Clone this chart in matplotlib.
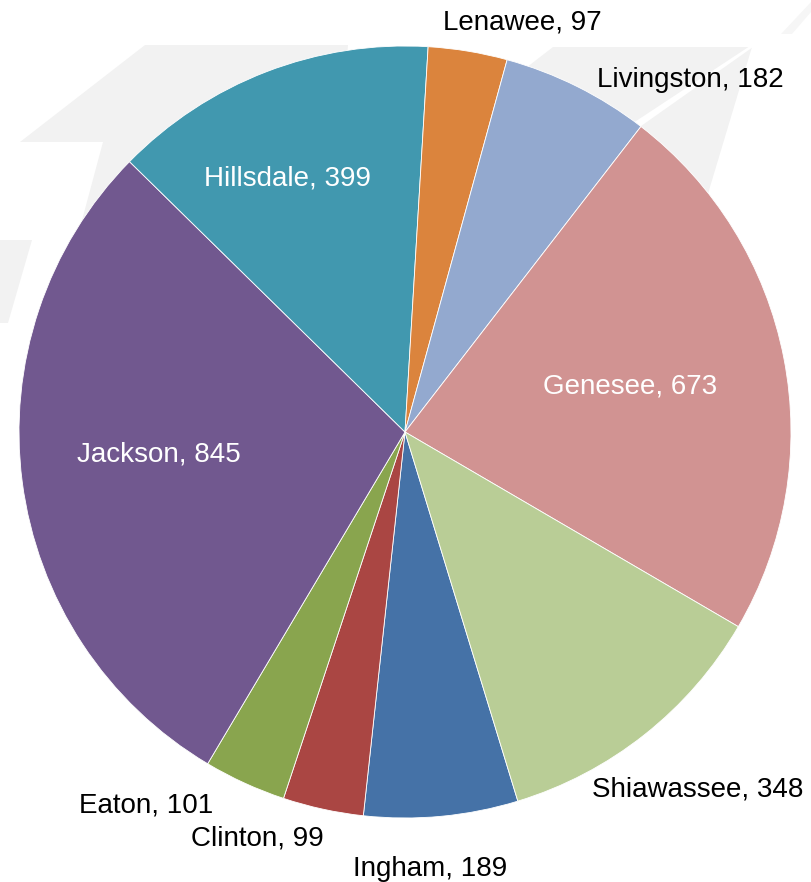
import matplotlib
matplotlib.use('Agg')
import matplotlib.pyplot as plt
import numpy as np
from matplotlib.patches import Polygon

# ---- data ----
counties = ['Ingham', 'Clinton', 'Eaton', 'Jackson', 'Hillsdale',
            'Lenawee', 'Livingston', 'Genesee', 'Shiawassee']
counts = [189, 99, 101, 845, 399, 97, 182, 673, 348]

# ---- style / layout ----
colors = ['#4572A7', '#AA4643', '#89A54E', '#71588F', '#4198AF',
          '#DB843D', '#93A9CF', '#D19392', '#B9CD96']
label_inside = [False, False, False, True, True, False, False, True, False]
# (radius factor, clockwise angular shift in degrees) for each label
label_layout = [(1.152, 2.2), (1.139, 7.4), (1.194, 9.7), (0.642, 0.5),
                (0.706, -4.4), (1.087, 6.8), (1.159, 13.1), (0.592, 1.2),
                (1.211, -0.35)]

W, H = 811, 882
CX, CY, R = 405, H - 432, 386

fig = plt.figure(figsize=(W / 100, H / 100), dpi=100)
ax = fig.add_axes([0, 0, 1, 1])

# ---- faint background watermark ----
wm = '#f2f2f2'
def poly(pts, color, z):
    ax.add_patch(Polygon([(x, H - y) for x, y in pts], closed=True,
                         facecolor=color, edgecolor='none', zorder=z))

poly([(145, 45), (348, 45), (330, 300), (74, 250), (103, 142), (20, 142)], wm, 0)
poly([(0, 240), (32, 240), (8, 323), (0, 323)], wm, 0)
poly([(553, 47), (752, 47), (710, 187), (690, 265), (500, 250), (500, 88)], wm, 0)
poly([(750, 46), (753, 47), (634, 131), (627, 127)], 'white', 0.5)
poly([(811, 2), (811, 12), (792, 34), (781, 34)], '#f6f6f6', 0)

# ---- pie ----
wedges, _ = ax.pie(counts, colors=colors, startangle=-73, counterclock=False,
                   center=(CX, CY), radius=R, frame=True,
                   wedgeprops=dict(edgecolor='white', linewidth=0.6))

for w, name, val, inside, (rf, shift) in zip(wedges, counties, counts,
                                             label_inside, label_layout):
    mid = (w.theta1 + w.theta2) / 2.0 - shift
    x = CX + rf * R * np.cos(np.radians(mid))
    y = CY + rf * R * np.sin(np.radians(mid))
    ax.text(x, y, f'{name}, {val}', ha='center', va='baseline',
            fontsize=20, family=['Liberation Sans', 'DejaVu Sans'],
            color='white' if inside else 'black', zorder=5)

ax.set_xlim(0, W)
ax.set_ylim(0, H)
ax.set_aspect('equal', adjustable='box')
ax.axis('off')

fig.savefig('out.png', dpi=100, facecolor='white')
